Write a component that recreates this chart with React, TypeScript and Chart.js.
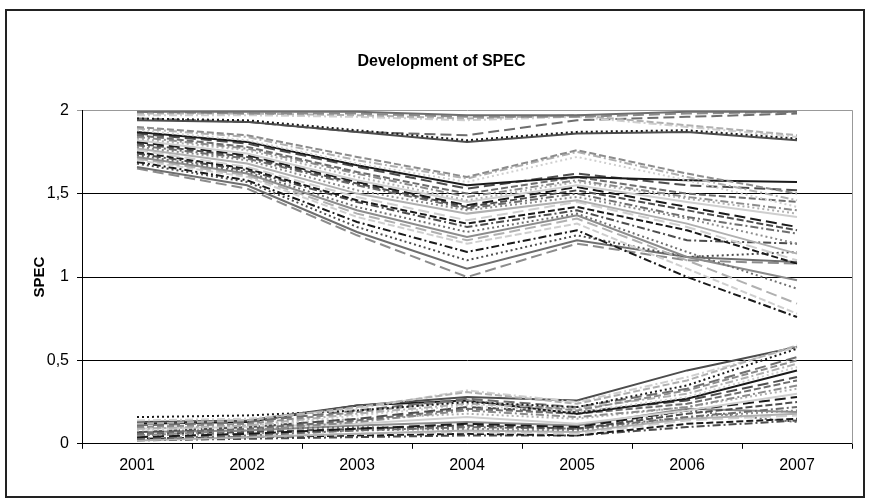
import React, { useEffect, useRef } from "react";
import { Chart, registerables } from "chart.js";
Chart.register(...registerables);

const years = ["2001", "2002", "2003", "2004", "2005", "2006", "2007"];
const yTickValues = [0, 0.5, 1, 1.5, 2];

// Upper cluster (near 2)
const t1 = [1.99, 1.99, 1.99, 1.97, 1.97, 1.99, 1.99];
const t2 = [1.99, 1.98, 1.98, 1.96, 1.96, 1.98, 1.99];
const t3 = [1.98, 1.98, 1.97, 1.95, 1.97, 1.91, 1.85];
const t4 = [1.97, 1.97, 1.96, 1.94, 1.96, 1.9, 1.84];
const t5 = [1.95, 1.94, 1.88, 1.82, 1.87, 1.88, 1.83];
const t6 = [1.94, 1.93, 1.87, 1.81, 1.86, 1.87, 1.82];
const t7 = [1.95, 1.93, 1.87, 1.85, 1.94, 1.96, 1.98];

// Middle cluster
const m1 = [1.9, 1.85, 1.72, 1.6, 1.76, 1.62, 1.5];
const m2 = [1.89, 1.84, 1.7, 1.59, 1.75, 1.6, 1.46];
const m3 = [1.88, 1.82, 1.68, 1.57, 1.72, 1.58, 1.42];
const m4 = [1.87, 1.81, 1.67, 1.55, 1.6, 1.58, 1.57];
const m5 = [1.86, 1.8, 1.66, 1.53, 1.62, 1.55, 1.52];
const m6 = [1.85, 1.78, 1.63, 1.5, 1.6, 1.5, 1.45];
const m7 = [1.84, 1.77, 1.62, 1.48, 1.58, 1.48, 1.4];
const m8 = [1.83, 1.76, 1.6, 1.46, 1.57, 1.47, 1.38];
const m9 = [1.82, 1.74, 1.58, 1.45, 1.55, 1.45, 1.36];
const m10 = [1.81, 1.73, 1.57, 1.43, 1.54, 1.42, 1.3];
const m11 = [1.8, 1.72, 1.56, 1.42, 1.52, 1.4, 1.28];
const m12 = [1.79, 1.71, 1.55, 1.41, 1.5, 1.36, 1.26];
const m13 = [1.78, 1.7, 1.52, 1.4, 1.48, 1.35, 1.2];
const m14 = [1.77, 1.68, 1.5, 1.38, 1.46, 1.32, 1.14];
const m15 = [1.76, 1.66, 1.48, 1.34, 1.45, 1.3, 1.1];
const m16 = [1.75, 1.65, 1.46, 1.32, 1.42, 1.28, 1.08];
const m17 = [1.74, 1.64, 1.45, 1.3, 1.4, 1.22, 1.2];
const m18 = [1.73, 1.63, 1.42, 1.27, 1.38, 1.15, 0.93];
const m19 = [1.72, 1.62, 1.4, 1.24, 1.37, 1.12, 0.98];
const m20 = [1.71, 1.61, 1.38, 1.22, 1.35, 1.1, 0.84];
const m21 = [1.7, 1.6, 1.36, 1.2, 1.32, 1.05, 0.78];
const m22 = [1.69, 1.58, 1.33, 1.15, 1.28, 1.0, 0.76];
const m23 = [1.68, 1.57, 1.3, 1.1, 1.25, 1.12, 1.15];
const m24 = [1.66, 1.55, 1.27, 1.05, 1.22, 1.12, 1.09];
const m25 = [1.65, 1.53, 1.25, 1.0, 1.2, 1.1, 1.08];

// Lower cluster (near 0)
const b1 = [0.12, 0.14, 0.22, 0.31, 0.24, 0.38, 0.59];
const b2 = [0.14, 0.15, 0.21, 0.32, 0.25, 0.4, 0.58];
const b3 = [0.16, 0.17, 0.2, 0.25, 0.22, 0.35, 0.57];
const b4 = [0.13, 0.14, 0.23, 0.28, 0.26, 0.44, 0.58];
const b5 = [0.11, 0.13, 0.2, 0.27, 0.22, 0.33, 0.52];
const b6 = [0.1, 0.12, 0.19, 0.26, 0.2, 0.32, 0.5];
const b7 = [0.09, 0.11, 0.18, 0.24, 0.21, 0.3, 0.48];
const b8 = [0.08, 0.1, 0.17, 0.23, 0.19, 0.28, 0.46];
const b9 = [0.12, 0.13, 0.23, 0.26, 0.18, 0.27, 0.44];
const b10 = [0.07, 0.1, 0.15, 0.22, 0.19, 0.26, 0.4];
const b11 = [0.06, 0.09, 0.14, 0.21, 0.18, 0.24, 0.38];
const b12 = [0.05, 0.08, 0.13, 0.2, 0.16, 0.22, 0.35];
const b13 = [0.1, 0.11, 0.15, 0.18, 0.15, 0.22, 0.33];
const b14 = [0.09, 0.1, 0.12, 0.16, 0.12, 0.2, 0.3];
const b15 = [0.04, 0.06, 0.09, 0.12, 0.1, 0.2, 0.28];
const b16 = [0.06, 0.07, 0.09, 0.11, 0.09, 0.18, 0.25];
const b17 = [0.03, 0.05, 0.08, 0.1, 0.09, 0.16, 0.22];
const b18 = [0.05, 0.06, 0.08, 0.09, 0.08, 0.16, 0.2];
const b19 = [0.02, 0.04, 0.06, 0.08, 0.07, 0.15, 0.18];
const b20 = [0.04, 0.05, 0.06, 0.07, 0.06, 0.14, 0.17];
const b21 = [0.03, 0.04, 0.05, 0.06, 0.05, 0.12, 0.15];
const b22 = [0.02, 0.03, 0.04, 0.05, 0.05, 0.1, 0.14];
const b23 = [0.08, 0.09, 0.1, 0.09, 0.08, 0.2, 0.13];
const b24 = [0.07, 0.08, 0.11, 0.13, 0.11, 0.21, 0.19];

const seriesList = [
  t1, t2, t3, t4, t5, t6, t7,
  m1, m2, m3, m4, m5, m6, m7, m8, m9, m10, m11, m12, m13, m14, m15, m16, m17, m18, m19, m20, m21, m22, m23, m24, m25,
  b1, b2, b3, b4, b5, b6, b7, b8, b9, b10, b11, b12, b13, b14, b15, b16, b17, b18, b19, b20, b21, b22, b23, b24,
];

const greys = ["#1a1a1a", "#4d4d4d", "#6e6e6e", "#8c8c8c", "#b0b0b0", "#cfcfcf"];
const dashes: number[][] = [[], [7, 3], [2, 3], [11, 5], [8, 3, 2, 3]];

const FONT = "Liberation Sans, Arial, sans-serif";

export default function App() {
  const ref = useRef<HTMLCanvasElement | null>(null);

  useEffect(() => {
    if (!ref.current) return;
    const rightBorder = {
      id: "rightBorder",
      beforeDatasetsDraw(chart: any) {
        const { ctx, chartArea } = chart;
        ctx.save();
        ctx.strokeStyle = "#999";
        ctx.lineWidth = 1;
        ctx.beginPath();
        ctx.moveTo(chartArea.right + 0.5, chartArea.top);
        ctx.lineTo(chartArea.right + 0.5, chartArea.bottom);
        ctx.stroke();
        ctx.restore();
      },
    };
    const chart = new Chart(ref.current, {
      type: "line",
      data: {
        labels: years,
        datasets: seriesList.map((s, i) => ({
          label: "S" + (i + 1),
          data: s,
          borderColor: greys[(i * 7 + 2) % greys.length],
          borderDash: dashes[(i * 3) % dashes.length],
          borderWidth: 2,
          pointRadius: 0,
          tension: 0,
          fill: false,
        })),
      },
      options: {
        responsive: false,
        animation: false,
        layout: { padding: { left: 31, right: 17, top: 0, bottom: 20 } },
        plugins: {
          legend: { display: false },
          tooltip: { enabled: false },
          title: {
            display: true,
            text: "Development of SPEC",
            color: "#000",
            font: { family: FONT, size: 16, weight: "bold" },
            padding: { top: 52, bottom: 39 },
          },
        },
        scales: {
          x: {
            offset: true,
            grid: { offset: true, drawOnChartArea: false, drawTicks: true, tickLength: 5, color: "#000" },
            border: { color: "#000" },
            ticks: { color: "#000", font: { family: FONT, size: 16 }, padding: 7 },
          },
          y: {
            min: 0,
            max: 2,
            afterBuildTicks: (scale: any) => {
              scale.ticks = yTickValues.map((v) => ({ value: v }));
            },
            afterFit: (scale: any) => {
              scale.width = 51;
            },
            grid: {
              color: (c: any) => (c.tick && c.tick.value === 2 ? "#999" : "#000"),
              tickLength: 5,
              drawTicks: true,
            },
            border: { color: "#000" },
            ticks: {
              color: "#000",
              font: { family: FONT, size: 16 },
              padding: 8,
              callback: (v: any) => String(v).replace(".", ","),
            },
            title: {
              display: true,
              text: "SPEC",
              color: "#000",
              font: { family: FONT, size: 15, weight: "bold" },
              padding: 0,
            },
          },
        },
      },
      plugins: [rightBorder],
    });
    return () => chart.destroy();
  }, []);

  return (
    <div style={{ position: "fixed", left: 0, top: 0, width: 869, height: 502, background: "#fff" }}>
      <div
        style={{
          position: "absolute",
          left: 5,
          top: 9,
          width: 860,
          height: 489,
          border: "2px solid #222",
          boxSizing: "border-box",
        }}
      />
      <canvas ref={ref} width={869} height={502} style={{ position: "absolute", left: 0, top: 0 }} />
    </div>
  );
}
